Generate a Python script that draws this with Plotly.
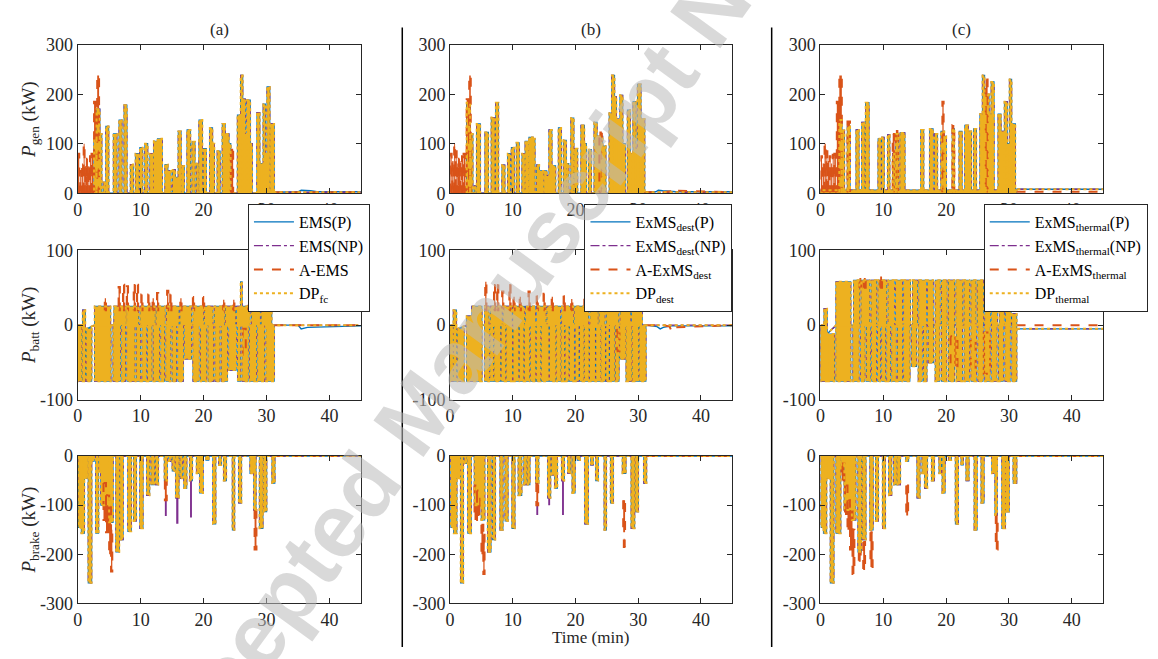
import plotly.graph_objects as go

# ---------------- basic style ----------------
W, H = 1158, 659
BLUE, PURPLE, ORANGE, YELLOW = '#0072BD', '#7E2F8E', '#D95319', '#EDB120'
AXC = '#262626'
SERIF = 'Liberation Serif, Times New Roman, serif'

COL_TITLES = ['(a)', '(b)', '(c)']
ROW_LABELS = ['<i>P</i><sub>gen</sub> (kW)', '<i>P</i><sub>batt</sub> (kW)', '<i>P</i><sub>brake</sub> (kW)']
LEGEND_NAMES = [
    ['EMS(P)', 'EMS(NP)', 'A-EMS', 'DP<sub>fc</sub>'],
    ['ExMS<sub>dest</sub>(P)', 'ExMS<sub>dest</sub>(NP)', 'A-ExMS<sub>dest</sub>', 'DP<sub>dest</sub>'],
    ['ExMS<sub>thermal</sub>(P)', 'ExMS<sub>thermal</sub>(NP)', 'A-ExMS<sub>thermal</sub>', 'DP<sub>thermal</sub>'],
]
X_TICKS = [0, 10, 20, 30, 40]
X_RANGE = [0, 45]
Y_RANGES = [[0, 300], [-100, 100], [-300, 0]]
Y_TICKS = [[0, 100, 200, 300], [-100, 0, 100], [-300, -200, -100, 0]]
WATERMARK = 'Accepted Manuscript Not Copyedited'

# ---------------- data: blocks (t_start, t_end, low, high) in min / kW ----------------
# ---- P_gen ----
GEN_A_DP = [(2.6, 3.0, 0, 110), (3.0, 3.5, 0, 170), (3.5, 3.8, 0, 120), (4.1, 4.4, 0, 22), (4.5, 4.9, 0, 135),
            (5.7, 6.2, 0, 120), (6.6, 7.0, 0, 148), (7.4, 7.8, 0, 178), (8.4, 8.8, 0, 58), (9.2, 9.7, 0, 80),
            (9.9, 10.3, 0, 92), (10.7, 11.1, 0, 100), (11.5, 12.0, 0, 80), (12.1, 12.7, 0, 105), (12.7, 13.4, 0, 110),
            (13.9, 14.3, 0, 58), (14.3, 14.8, 0, 45), (15.1, 15.5, 0, 47), (15.5, 16.0, 0, 32), (16.0, 16.4, 0, 125),
            (16.5, 16.9, 0, 55), (17.4, 17.9, 0, 128), (18.2, 18.6, 0, 104), (18.9, 19.1, 0, 60), (19.3, 19.8, 0, 148),
            (20.0, 20.4, 0, 90), (21.0, 21.4, 0, 132), (21.4, 21.7, 0, 100), (22.2, 22.6, 0, 85), (23.0, 23.4, 0, 140),
            (23.4, 24.0, 0, 120), (24.0, 24.3, 0, 100), (25.4, 25.9, 0, 158), (25.9, 26.2, 0, 238), (26.2, 26.6, 0, 190),
            (26.6, 26.9, 0, 120), (26.9, 27.4, 0, 188), (27.4, 27.7, 0, 100), (28.5, 28.9, 0, 163), (28.9, 29.5, 0, 60),
            (29.5, 29.8, 0, 180), (29.8, 30.1, 0, 80), (30.1, 30.5, 0, 215), (30.6, 31.2, 0, 140)]
GEN_A_A = [(0.05, 0.25, 0, 80), (0.4, 0.6, 0, 45), (0.7, 0.85, 0, 60), (0.95, 1.1, 0, 100), (1.2, 1.35, 0, 55),
           (1.45, 1.6, 0, 70), (1.7, 1.85, 0, 55), (1.95, 2.1, 0, 75), (2.2, 2.45, 0, 80), (2.6, 3.0, 0, 185),
           (3.1, 3.4, 0, 238), (24.3, 24.7, 0, 90)]
GEN_A_NP = []
GEN_A_TAIL_T = [31.2, 35.0, 35.5, 37.0, 38.0, 45.0]
GEN_A_TAIL_P = [2, 3, 6, 5, 3, 3]
GEN_A_TAIL_NP = [2, 2, 2, 2, 2, 2]
GEN_A_TAIL_A = [2, 2, 2, 2, 2, 2]
GEN_A_TAIL_DP = [2, 2, 2, 2, 2, 2]

GEN_B_DP = [(2.65, 3.2, 0, 183), (3.2, 3.6, 0, 120), (3.9, 4.1, 0, 15), (4.25, 4.8, 0, 140), (5.6, 6.1, 0, 123),
            (6.6, 7.1, 0, 153), (7.3, 7.7, 0, 183), (8.3, 8.7, 0, 57), (9.2, 9.55, 0, 80), (9.8, 10.2, 0, 92),
            (10.6, 11.0, 0, 102), (11.5, 11.9, 0, 80), (12.0, 12.5, 0, 105), (12.6, 13.2, 0, 113), (13.2, 13.5, 0, 110),
            (13.8, 14.2, 0, 57), (14.2, 14.9, 0, 45), (15.0, 15.4, 0, 45), (15.4, 15.8, 0, 35), (15.8, 16.2, 0, 128),
            (16.2, 16.8, 0, 55), (17.3, 17.7, 0, 132), (18.1, 18.5, 0, 107), (18.6, 18.9, 0, 60), (19.3, 19.7, 0, 152),
            (19.8, 20.3, 0, 90), (20.9, 21.4, 0, 137), (21.4, 21.7, 0, 100), (22.1, 22.5, 0, 88), (23.0, 23.4, 0, 143),
            (23.4, 24.3, 0, 115), (24.3, 24.8, 0, 95), (25.4, 25.8, 0, 162), (25.8, 26.2, 0, 238), (26.2, 26.5, 0, 195),
            (26.5, 27.1, 0, 150), (27.1, 27.5, 0, 198), (27.5, 27.9, 0, 100), (28.3, 28.7, 0, 168), (28.7, 29.2, 0, 80),
            (29.2, 29.6, 0, 185), (29.6, 29.9, 0, 90), (29.9, 30.4, 0, 220), (30.4, 31.0, 0, 150)]
GEN_B_A = [(0.05, 0.25, 0, 80), (0.35, 0.55, 0, 65), (0.65, 0.8, 0, 100), (0.9, 1.05, 0, 85), (1.15, 1.3, 0, 60),
           (1.4, 1.55, 0, 70), (1.65, 1.8, 0, 65), (1.9, 2.05, 0, 75), (2.15, 2.45, 0, 80), (2.65, 3.0, 0, 190),
           (3.05, 3.3, 0, 238), (23.8, 24.2, 0, 125)]
GEN_B_NP = []
GEN_B_TAIL_T = [31.0, 32.8, 33.2, 33.9, 35.2, 35.6, 36.0, 45.0]
GEN_B_TAIL_P = [2, 3, 6, 5, 3, 3, 3, 3]
GEN_B_TAIL_NP = [2, 2, 2, 2, 2, 2, 2, 2]
GEN_B_TAIL_A = [2, 2, 2, 2, 4, 10, 5, 2]
GEN_B_TAIL_DP = [2, 2, 2, 2, 2, 2, 2, 2]

GEN_C_DP = [(0.0, 31.2, 0, 6), (3.0, 3.4, 0, 148), (3.4, 3.8, 0, 127), (4.3, 4.7, 0, 135), (5.7, 6.1, 0, 128),
            (6.6, 7.0, 0, 143), (7.2, 7.7, 0, 183), (9.2, 9.6, 0, 110), (9.8, 10.1, 0, 113), (10.7, 11.0, 0, 118),
            (11.5, 11.8, 0, 80), (12.0, 12.4, 0, 120), (12.7, 13.4, 0, 122), (16.0, 16.4, 0, 128), (17.4, 17.9, 0, 130),
            (18.2, 18.6, 0, 120), (19.2, 19.7, 0, 125), (19.7, 20.0, 0, 115), (21.0, 21.3, 0, 130), (22.1, 22.5, 0, 125),
            (23.0, 23.5, 0, 137), (23.5, 24.0, 0, 125), (24.4, 24.8, 0, 130), (25.4, 25.8, 0, 160), (25.8, 26.1, 0, 238),
            (26.1, 26.8, 0, 200), (26.8, 27.2, 0, 160), (27.2, 27.6, 0, 225), (28.3, 28.7, 0, 160), (28.7, 29.3, 0, 125),
            (29.3, 29.7, 0, 185), (29.7, 30.1, 0, 100), (30.1, 30.4, 0, 230), (30.4, 31.0, 0, 140)]
GEN_C_A = [(0.05, 0.25, 0, 75), (0.35, 0.55, 0, 60), (0.65, 0.85, 0, 100), (0.95, 1.1, 0, 85), (1.2, 1.35, 0, 65),
           (1.45, 1.6, 0, 75), (1.7, 1.85, 0, 60), (1.95, 2.1, 0, 78), (2.2, 2.45, 0, 80), (2.6, 3.0, 0, 185),
           (3.0, 3.4, 0, 238), (4.3, 4.7, 0, 145), (11.5, 11.8, 0, 120), (12.0, 12.4, 0, 128), (19.4, 19.6, 0, 185),
           (21.0, 21.3, 0, 138), (26.3, 26.6, 0, 230)]
GEN_C_NP = []
GEN_C_TAIL_T = [31.2, 45.0]
GEN_C_TAIL_P = [8, 8]
GEN_C_TAIL_NP = [8, 8]
GEN_C_TAIL_A = [3, 3]
GEN_C_TAIL_DP = [8, 8]

# ---- P_batt ----
BATT_A_DP = [(0.0, 0.6, -75, 0), (0.8, 1.2, -75, 20), (1.4, 2.2, -75, -5),
             (2.7, 5.25, -75, 0), (5.65, 6.75, -75, 0), (7.05, 7.55, -75, 0), (7.85, 9.05, -75, 0), (9.35, 9.95, -75, 0),
             (10.25, 10.85, -75, 0), (11.15, 11.75, -75, 0), (12.05, 12.95, -75, 0), (13.25, 13.75, -75, 0),
             (14.05, 14.75, -75, 0), (15.05, 15.65, -75, 0), (15.95, 16.75, -75, 0), (17.05, 18.05, -45, 0),
             (18.35, 19.25, -75, 0), (19.55, 20.45, -75, 0), (20.75, 21.55, -75, 0), (21.85, 22.55, -75, 0),
             (22.85, 23.75, -75, 0), (24.05, 25.15, -60, 0), (25.45, 25.85, -75, 0), (26.15, 27.05, -75, 0),
             (27.35, 28.35, -75, 0), (28.65, 29.65, -75, 0), (29.95, 31.2, -75, 0),
             (2.7, 5.2, 0, 25), (5.8, 7.65, 0, 25), (7.85, 9.65, 0, 25), (9.95, 12.25, 0, 25), (12.5, 13.85, 0, 25),
             (14.15, 16.05, 0, 25), (16.3, 18.05, 0, 25), (18.35, 19.95, 0, 25), (20.2, 21.45, 0, 25),
             (21.75, 23.25, 0, 25), (23.5, 25.05, 0, 25), (25.3, 27.35, 0, 25), (27.65, 28.95, 0, 25),
             (29.2, 30.8, 0, 25), (25.9, 26.1, 0, 58)]
BATT_A_A = [(4.3, 4.5, 20, 36), (6.5, 6.7, 20, 51), (7.2, 7.4, 20, 54), (7.8, 8.0, 20, 52), (8.9, 9.1, 20, 55),
            (9.4, 9.6, 20, 54), (10.1, 10.3, 20, 41), (11.2, 11.4, 20, 41), (11.9, 12.1, 20, 36), (12.6, 12.8, 20, 43),
            (14.2, 14.4, 20, 46), (14.7, 14.9, 20, 41), (16.3, 16.5, 20, 36), (18.3, 18.5, 20, 39), (19.9, 20.1, 20, 39),
            (23.1, 23.3, 20, 34), (24.7, 24.9, 20, 34), (27.1, 27.3, 20, 34), (28.9, 29.1, 20, 44), (30.0, 30.2, 20, 43),
            (26.2, 26.7, -40, -5)]
BATT_A_NP = []
BATT_A_TAIL_T = [31.2, 35.0, 35.5, 36.5, 45.0]
BATT_A_TAIL_P = [0, 0, -5, -3, -1]
BATT_A_TAIL_NP = [0, 0, 0, 0, 0]
BATT_A_TAIL_A = [0, 0, 0, 0, 0]
BATT_A_TAIL_DP = [0, 0, 0, 0, 0]

BATT_B_DP = [(0.0, 0.45, -75, 0), (0.55, 1.0, -75, 20), (1.2, 2.2, -75, -5),
             (2.65, 5.05, -75, 0), (5.55, 6.2, -75, 0), (6.4, 6.85, -75, 0), (7.05, 8.0, -75, 0), (8.2, 8.8, -75, 0),
             (9.0, 9.9, -75, 0), (10.1, 10.9, -75, 0), (11.1, 11.7, -75, 0), (11.9, 12.65, -75, 0),
             (12.9, 13.6, -75, 0), (13.8, 14.4, -75, 0), (14.6, 15.7, -75, 0), (15.9, 16.8, -75, 0),
             (17.0, 17.6, -75, 0), (17.8, 18.2, -75, 0), (18.4, 18.9, -75, 0), (19.1, 19.75, -75, 0),
             (20.0, 20.5, -75, 0), (20.7, 21.3, -75, 0), (21.5, 22.1, -75, 0), (22.3, 23.1, -75, 0),
             (23.3, 23.9, -75, 0), (24.1, 24.7, -75, 0), (24.9, 25.3, -75, 0), (25.5, 26.15, -75, 0),
             (26.4, 26.9, -75, 0), (27.1, 27.9, -45, 0), (28.1, 28.9, -75, 0), (29.1, 30.0, -75, 0),
             (30.2, 31.2, -75, 0),
             (2.65, 3.5, 0, 12), (3.5, 5.05, 0, 25), (5.55, 6.15, 0, 25), (6.45, 8.25, 0, 25), (8.5, 9.85, 0, 25),
             (10.05, 11.85, 0, 25), (12.1, 13.55, 0, 25), (13.85, 15.25, 0, 25), (15.5, 17.55, 0, 25),
             (17.85, 19.65, 0, 25), (19.9, 22.05, 0, 25), (22.35, 23.55, 0, 25), (23.8, 24.65, 0, 25),
             (24.95, 26.85, 0, 25), (27.15, 28.75, 0, 25), (29.0, 30.6, 0, 25)]
BATT_B_A = [(5.6, 5.8, 20, 58), (7.0, 7.2, 20, 55), (7.5, 7.7, 20, 55), (8.3, 8.5, 20, 45), (9.45, 9.65, 20, 55),
            (10.1, 10.3, 20, 38), (11.1, 11.3, 20, 38), (12.5, 12.7, 20, 45), (13.8, 14.0, 20, 40), (14.9, 15.1, 20, 42),
            (16.2, 16.4, 20, 38), (18.1, 18.3, 20, 40), (19.3, 19.5, 20, 35), (21.4, 21.6, 20, 38), (22.6, 22.8, 20, 38),
            (23.7, 23.9, 20, 32), (25.8, 26.0, 20, 45), (26.6, 26.8, 20, 35), (27.9, 28.1, 20, 35), (29.0, 29.2, 20, 38),
            (29.8, 30.0, 20, 40), (26.6, 27.0, -35, -5)]
BATT_B_NP = []
BATT_B_TAIL_T = [31.2, 33.0, 33.5, 34.0, 35.0, 35.3, 35.6, 45.0]
BATT_B_TAIL_P = [0, -2, -5, -3, -1, -1, -1, -1]
BATT_B_TAIL_NP = [0, 0, 0, 0, 0, 0, 0, 0]
BATT_B_TAIL_A = [0, 0, 0, 0, -2, -8, -3, 0]
BATT_B_TAIL_DP = [0, 0, 0, 0, 0, 0, 0, 0]

BATT_C_DP = [(0.0, 0.6, -75, 0), (0.6, 1.05, -75, 22), (1.05, 2.2, -75, -12),
             (2.5, 4.8, -75, 0), (5.2, 6.1, -75, 0), (6.45, 7.05, -75, 0), (7.35, 7.9, -75, 0), (8.2, 8.85, -75, 0),
             (9.15, 9.5, -75, 0), (9.8, 10.3, -75, 0), (10.6, 11.1, -75, 0), (11.4, 12.0, -75, 0), (12.3, 13.0, -75, 0),
             (13.3, 14.2, -75, 0), (14.55, 15.25, -55, 0), (15.6, 16.15, -75, 0), (16.45, 16.9, -75, 0),
             (17.2, 17.95, -50, 0), (18.3, 18.95, -75, 0), (19.3, 20.05, -75, 0), (20.4, 21.3, -75, 0),
             (21.65, 22.55, -75, 0), (22.9, 23.65, -75, 0), (24.0, 24.75, -75, 0), (25.1, 25.85, -75, 0),
             (26.2, 26.95, -75, 0), (27.3, 28.05, -75, 0), (28.4, 29.05, -75, 0), (29.4, 30.15, -75, 0),
             (30.5, 31.2, -75, 0),
             (2.5, 4.8, 0, 58), (5.3, 6.2, 0, 60), (6.5, 7.8, 0, 60), (8.1, 8.9, 0, 60), (9.2, 10.5, 0, 60),
             (10.8, 11.7, 0, 60), (12.0, 13.0, 0, 60), (13.3, 14.3, 0, 60), (14.7, 15.4, 0, 60), (15.7, 16.8, 0, 60),
             (17.1, 17.9, 0, 60), (18.3, 19.0, 0, 60), (19.3, 20.1, 0, 60), (20.4, 21.3, 0, 60), (21.6, 22.6, 0, 60),
             (22.9, 23.7, 0, 60), (24.0, 24.7, 0, 60), (25.0, 25.9, 0, 60), (26.2, 27.0, 0, 60), (27.3, 28.1, 0, 60),
             (28.5, 29.2, 0, 60), (29.5, 30.3, 0, 45), (30.5, 31.2, 0, 15)]
BATT_C_A = [(6.2, 6.5, 50, 63), (6.9, 7.2, 50, 63), (9.5, 9.8, 50, 65), (20.7, 21.8, -55, -15),
            (23.9, 24.7, -60, -20), (26.0, 27.0, -65, -10)]
BATT_C_NP = []
BATT_C_TAIL_T = [31.2, 45.0]
BATT_C_TAIL_P = [-5, -5]
BATT_C_TAIL_NP = [-5, -5]
BATT_C_TAIL_A = [0, 0]
BATT_C_TAIL_DP = [-5, -5]

# ---- P_brake ----
BRAKE_A_DP = [(0.1, 0.6, -145, 0), (0.6, 1.05, -157, 0), (1.05, 1.6, -45, 0), (1.7, 2.2, -258, 0), (2.2, 2.6, -10, 0),
              (2.9, 3.3, -157, 0), (3.4, 3.7, -30, 0), (3.7, 5.0, -100, 0), (5.0, 5.6, -135, 0), (6.1, 6.6, -195, 0),
              (6.75, 7.2, -170, 0), (8.0, 8.5, -153, 0), (8.9, 9.3, -132, 0), (9.9, 10.35, -147, 0), (11.0, 11.4, -80, 0),
              (11.7, 12.15, -58, 0), (12.4, 12.8, -58, 0), (13.8, 14.2, -50, 0), (14.5, 14.8, -10, 0), (15.05, 15.4, -30, 0),
              (15.6, 16.05, -85, 0), (16.3, 16.6, -45, 0), (16.9, 17.3, -65, 0), (17.8, 18.2, -50, 0), (18.9, 19.3, -35, 0),
              (19.4, 19.9, -75, 0), (20.4, 20.8, -8, 0), (21.5, 21.9, -138, 0), (22.45, 22.8, -18, 0), (23.2, 23.6, -50, 0),
              (24.6, 24.9, -150, 0), (25.6, 26.0, -95, 0), (27.4, 28.0, -35, 0), (28.0, 28.3, -110, 0),
              (28.9, 29.4, -147, 0), (29.6, 30.0, -113, 0), (30.9, 31.3, -55, 0)]
BRAKE_A_A = [(4.1, 4.5, -130, -55), (4.5, 5.0, -155, -80), (5.0, 5.3, -200, -100), (5.3, 5.5, -235, -150),
             (13.85, 14.15, -90, -50), (28.1, 28.4, -190, -110)]
BRAKE_A_NP = [(13.85, 14.15, -122, -90), (15.65, 16.0, -138, -85), (17.85, 18.15, -125, -50)]
BRAKE_A_TAIL_T = [31.3, 45.0]
BRAKE_A_TAIL_P = [0, 0]
BRAKE_A_TAIL_NP = [0, 0]
BRAKE_A_TAIL_A = [0, 0]
BRAKE_A_TAIL_DP = [0, 0]

BRAKE_B_DP = [(0.15, 0.6, -145, 0), (0.6, 1.05, -157, 0), (1.05, 1.6, -45, 0), (1.7, 2.1, -258, 0), (2.3, 2.65, -15, 0),
              (2.85, 3.35, -157, 0), (3.9, 5.0, -100, 0), (5.0, 5.5, -130, 0), (6.0, 6.5, -195, 0), (6.8, 7.2, -170, 0),
              (8.0, 8.4, -150, 0), (8.8, 9.2, -132, 0), (9.9, 10.3, -147, 0), (10.9, 11.4, -80, 0), (11.8, 12.2, -58, 0),
              (12.4, 12.7, -58, 0), (13.7, 14.1, -55, 0), (15.6, 16.0, -85, 0), (16.2, 16.7, -38, 0), (16.7, 17.1, -65, 0),
              (17.8, 18.2, -50, 0), (18.8, 19.2, -35, 0), (19.5, 19.9, -75, 0), (20.3, 20.7, -8, 0), (21.5, 22.0, -138, 0),
              (22.45, 22.8, -18, 0), (23.25, 23.6, -50, 0), (24.6, 24.9, -150, 0), (25.6, 26.0, -95, 0),
              (27.5, 28.0, -35, 0), (28.9, 29.4, -147, 0), (29.6, 30.0, -113, 0), (30.9, 31.3, -55, 0)]
BRAKE_B_A = [(3.9, 4.3, -130, -60), (4.3, 4.8, -120, -70), (5.0, 5.3, -200, -140), (5.3, 5.5, -240, -160),
             (13.75, 14.05, -100, -55), (27.6, 27.9, -155, -90), (27.7, 28.0, -185, -170)]
BRAKE_B_NP = [(13.75, 14.05, -120, -100), (15.65, 15.95, -100, -85), (17.85, 18.15, -120, -50)]
BRAKE_B_TAIL_T = [31.3, 45.0]
BRAKE_B_TAIL_P = [0, 0]
BRAKE_B_TAIL_NP = [0, 0]
BRAKE_B_TAIL_A = [0, 0]
BRAKE_B_TAIL_DP = [0, 0]

BRAKE_C_DP = [(0.1, 0.5, -145, 0), (0.5, 0.95, -157, 0), (0.95, 1.6, -45, 0), (1.6, 2.1, -258, 0), (2.5, 3.2, -157, 0),
              (3.3, 3.8, -20, 0), (3.8, 5.0, -110, 0), (5.0, 5.6, -130, 0), (6.0, 6.5, -195, 0), (6.7, 7.2, -170, 0),
              (7.9, 8.35, -150, 0), (8.8, 9.2, -132, 0), (9.9, 10.3, -147, 0), (10.9, 11.3, -80, 0), (11.7, 12.1, -58, 0),
              (12.25, 12.7, -58, 0), (13.6, 14.0, -10, 0), (15.4, 15.8, -85, 0), (16.2, 16.6, -35, 0), (16.6, 17.0, -65, 0),
              (17.7, 18.1, -50, 0), (18.9, 19.2, -35, 0), (19.4, 19.8, -75, 0), (20.4, 20.8, -8, 0), (21.5, 21.9, -138, 0),
              (22.4, 22.7, -18, 0), (23.2, 23.6, -50, 0), (24.5, 24.9, -150, 0), (25.6, 26.0, -95, 0),
              (27.3, 28.1, -35, 0), (27.8, 28.1, -120, 0), (28.9, 29.4, -147, 0), (29.5, 30.0, -113, 0),
              (30.7, 31.2, -55, 0)]
BRAKE_C_A = [(3.4, 3.8, -50, -15), (3.9, 4.3, -120, -60), (4.3, 4.7, -150, -90), (4.7, 5.1, -190, -110),
             (5.1, 5.4, -240, -150), (6.1, 6.4, -215, -195), (6.8, 7.1, -232, -175), (7.95, 8.3, -226, -155),
             (13.65, 13.95, -121, -60), (27.9, 28.2, -190, -120)]
BRAKE_C_NP = []
BRAKE_C_TAIL_T = [31.3, 45.0]
BRAKE_C_TAIL_P = [0, 0]
BRAKE_C_TAIL_NP = [0, 0]
BRAKE_C_TAIL_A = [0, 0]
BRAKE_C_TAIL_DP = [0, 0]

PANELS = [
    [(GEN_A_DP, GEN_A_A, GEN_A_NP, GEN_A_TAIL_T, GEN_A_TAIL_P, GEN_A_TAIL_NP, GEN_A_TAIL_A, GEN_A_TAIL_DP),
     (GEN_B_DP, GEN_B_A, GEN_B_NP, GEN_B_TAIL_T, GEN_B_TAIL_P, GEN_B_TAIL_NP, GEN_B_TAIL_A, GEN_B_TAIL_DP),
     (GEN_C_DP, GEN_C_A, GEN_C_NP, GEN_C_TAIL_T, GEN_C_TAIL_P, GEN_C_TAIL_NP, GEN_C_TAIL_A, GEN_C_TAIL_DP)],
    [(BATT_A_DP, BATT_A_A, BATT_A_NP, BATT_A_TAIL_T, BATT_A_TAIL_P, BATT_A_TAIL_NP, BATT_A_TAIL_A, BATT_A_TAIL_DP),
     (BATT_B_DP, BATT_B_A, BATT_B_NP, BATT_B_TAIL_T, BATT_B_TAIL_P, BATT_B_TAIL_NP, BATT_B_TAIL_A, BATT_B_TAIL_DP),
     (BATT_C_DP, BATT_C_A, BATT_C_NP, BATT_C_TAIL_T, BATT_C_TAIL_P, BATT_C_TAIL_NP, BATT_C_TAIL_A, BATT_C_TAIL_DP)],
    [(BRAKE_A_DP, BRAKE_A_A, BRAKE_A_NP, BRAKE_A_TAIL_T, BRAKE_A_TAIL_P, BRAKE_A_TAIL_NP, BRAKE_A_TAIL_A, BRAKE_A_TAIL_DP),
     (BRAKE_B_DP, BRAKE_B_A, BRAKE_B_NP, BRAKE_B_TAIL_T, BRAKE_B_TAIL_P, BRAKE_B_TAIL_NP, BRAKE_B_TAIL_A, BRAKE_B_TAIL_DP),
     (BRAKE_C_DP, BRAKE_C_A, BRAKE_C_NP, BRAKE_C_TAIL_T, BRAKE_C_TAIL_P, BRAKE_C_TAIL_NP, BRAKE_C_TAIL_A, BRAKE_C_TAIL_DP)],
]

# ---------------- layout geometry (paper fractions) ----------------
X_DOM = [[73 / W, 357.5 / W], [447 / W, 730.5 / W], [819 / W, 1103 / W]]
Y_DOM = [[1 - 189 / H, 1 - 36 / H], [1 - 402 / H, 1 - 248 / H], [1 - 612 / H, 1 - 460 / H]]


def outline(blocks, connect=True):
    xs, ys = [], []
    for t0, t1, lo, hi in sorted(blocks):
        b = min(max(0, lo), hi)
        xs += [t0, t0, t1, t1, t0, t0]
        ys += [b, lo, lo, hi, hi, b]
        if not connect:
            xs.append(None)
            ys.append(None)
    return xs, ys


def polygons(blocks):
    xs, ys = [], []
    for t0, t1, lo, hi in blocks:
        xs += [t0, t1, t1, t0, t0, None]
        ys += [lo, lo, hi, hi, lo, None]
    return xs, ys


fig = go.Figure()
LEG_IDS = ['legend', 'legend2', 'legend3']

for r in range(3):
    for c in range(3):
        idx = r * 3 + c + 1
        xa = 'x' if idx == 1 else f'x{idx}'
        ya = 'y' if idx == 1 else f'y{idx}'
        dp, aext, npext, tt, tp, tnp, ta, tdp = PANELS[r][c]
        names = LEGEND_NAMES[c]
        show = (r == 0)
        leg = LEG_IDS[c]
        common = dict(xaxis=xa, yaxis=ya, mode='lines', hoverinfo='skip', legend=leg)

        bx, by = outline(dp)
        fig.add_trace(go.Scatter(x=bx + tt, y=by + tp, name=names[0], showlegend=show,
                                 line=dict(color=BLUE, width=1.4), **common))
        if npext:
            px, py = polygons(npext)
            fig.add_trace(go.Scatter(x=px, y=py, fill='toself', fillcolor=PURPLE, showlegend=False,
                                     line=dict(color=PURPLE, width=0), **common))
        fig.add_trace(go.Scatter(x=bx + tt, y=by + tnp, name=names[1], showlegend=show,
                                 line=dict(color=PURPLE, width=1.4, dash='dashdot'), **common))
        if aext:
            px, py = polygons(aext)
            fig.add_trace(go.Scatter(x=px, y=py, fill='toself', fillcolor=ORANGE, showlegend=False,
                                     line=dict(color=ORANGE, width=0), **common))
        px, py = polygons(dp)
        fig.add_trace(go.Scatter(x=px, y=py, fill='toself', fillcolor=YELLOW, showlegend=False,
                                 line=dict(color=YELLOW, width=0), **common))
        ax_, ay_ = outline(aext, connect=False)
        fig.add_trace(go.Scatter(x=ax_ + tt, y=ay_ + ta, name=names[2], showlegend=show,
                                 line=dict(color=ORANGE, width=2, dash='dash'), **common))
        fig.add_trace(go.Scatter(x=bx + tt, y=by + tdp, name=names[3], showlegend=show,
                                 line=dict(color=YELLOW, width=2, dash='dot'), **common))

axis_common = dict(ticks='inside', ticklen=5, tickwidth=1, tickcolor=AXC, mirror='allticks', showline=True,
                   linecolor=AXC, linewidth=1, showgrid=False, zeroline=False,
                   tickfont=dict(family=SERIF, size=18, color=AXC))
layout = dict(width=W, height=H, margin=dict(l=0, r=0, t=0, b=0), paper_bgcolor='white', plot_bgcolor='white',
              showlegend=True)
for r in range(3):
    for c in range(3):
        idx = r * 3 + c + 1
        xkey = 'xaxis' if idx == 1 else f'xaxis{idx}'
        ykey = 'yaxis' if idx == 1 else f'yaxis{idx}'
        layout[xkey] = dict(domain=X_DOM[c], anchor='y' if idx == 1 else f'y{idx}', range=X_RANGE,
                            tickvals=X_TICKS, ticktext=[str(v) for v in X_TICKS], **axis_common)
        layout[ykey] = dict(domain=Y_DOM[r], anchor='x' if idx == 1 else f'x{idx}', range=Y_RANGES[r],
                            tickvals=Y_TICKS[r], ticktext=[str(v) for v in Y_TICKS[r]], **axis_common)

LEG_X = [244 / W, 582 / W, 983 / W]
for c in range(3):
    layout[LEG_IDS[c]] = dict(x=LEG_X[c], y=1 - 200 / H, xanchor='left', yanchor='top', bgcolor='white',
                              bordercolor=AXC, borderwidth=1, itemwidth=40, tracegroupgap=0,
                              font=dict(family=SERIF, size=16, color='black'))

annotations = []
TITLE_X = [(73 + 357.5) / 2 / W, (447 + 730.5) / 2 / W, (819 + 1103) / 2 / W]
for c in range(3):
    annotations.append(dict(text=COL_TITLES[c], x=TITLE_X[c], y=1 - 20 / H, xref='paper', yref='paper',
                            xanchor='center', yanchor='middle', showarrow=False,
                            font=dict(family=SERIF, size=17, color=AXC)))
for r in range(3):
    annotations.append(dict(text=ROW_LABELS[r], x=25 / W, y=(Y_DOM[r][0] + Y_DOM[r][1]) / 2, xref='paper',
                            yref='paper', xanchor='center', yanchor='middle', showarrow=False, textangle=-90,
                            font=dict(family=SERIF, size=19, color=AXC)))
annotations.append(dict(text='Time (min)', x=588 / W, y=1 - 647 / H, xref='paper', yref='paper',
                        xanchor='center', yanchor='middle', showarrow=False,
                        font=dict(family=SERIF, size=17, color=AXC)))
annotations.append(dict(text='<b>' + WATERMARK + '</b>', x=610 / W, y=1 - 138 / H, xref='paper', yref='paper',
                        xanchor='center', yanchor='middle', showarrow=False, textangle=-54,
                        font=dict(family='Liberation Sans, Arial, sans-serif', size=90,
                                  color='rgba(185,185,185,0.55)')))
layout['annotations'] = annotations
layout['shapes'] = [
    dict(type='line', xref='paper', yref='paper', x0=399 / W, x1=399 / W, y0=1 - 657 / H, y1=1 - 18 / H,
         line=dict(color='black', width=1.5)),
    dict(type='line', xref='paper', yref='paper', x0=770 / W, x1=770 / W, y0=1 - 657 / H, y1=1 - 18 / H,
         line=dict(color='black', width=1.5)),
]
fig.update_layout(**layout)
fig.write_html('out.html')
